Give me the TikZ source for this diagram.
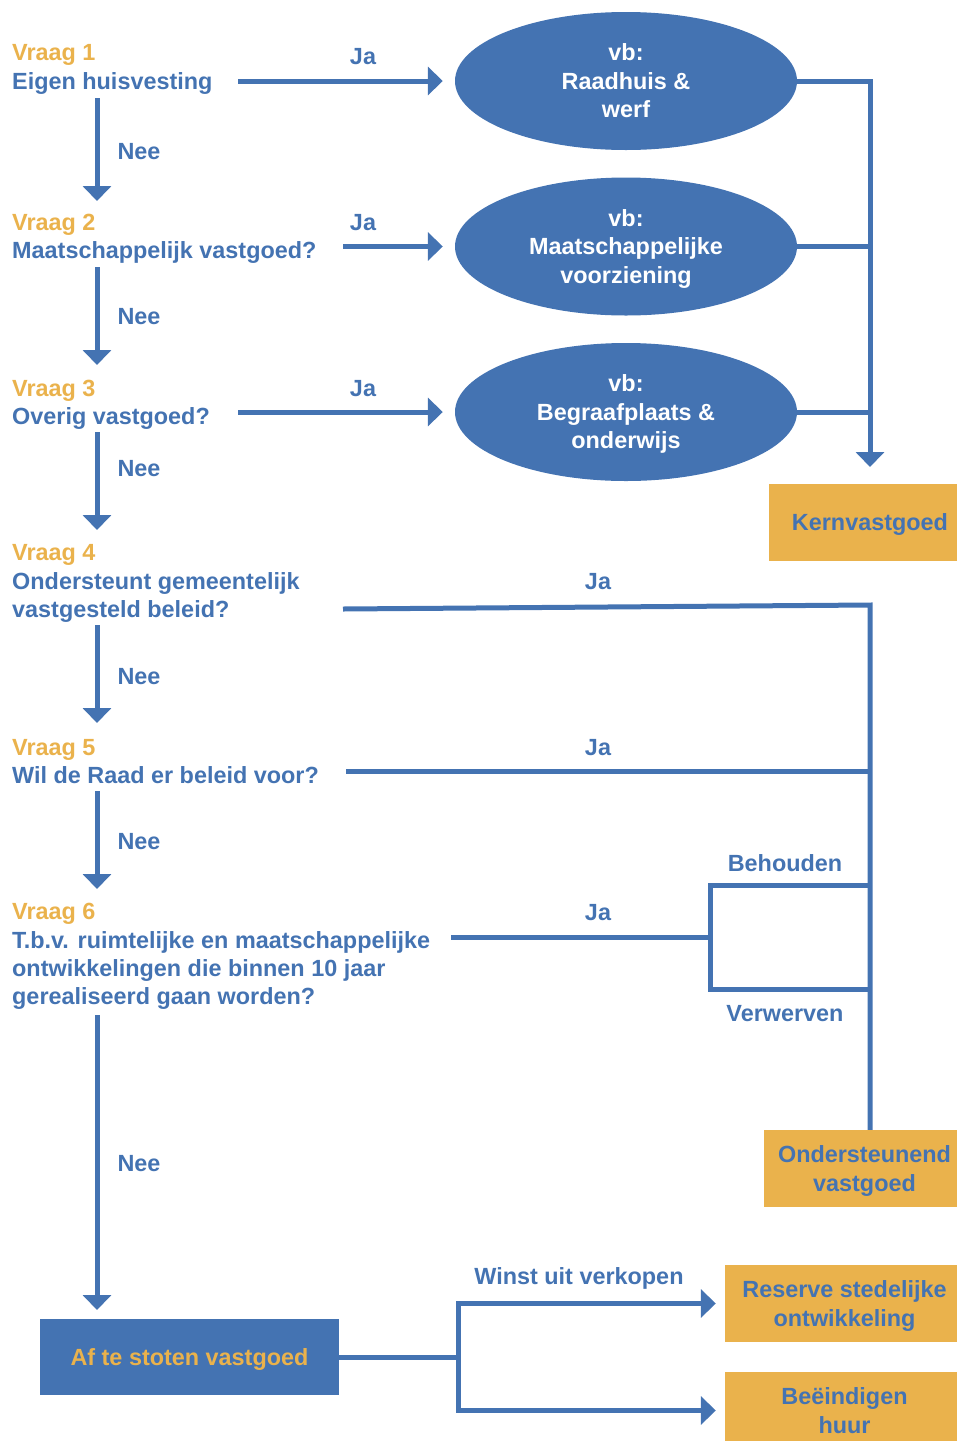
\documentclass[tikz,border=0pt]{standalone}
\usepackage{fontspec}
\setmainfont{Liberation Sans}
\usetikzlibrary{arrows.meta,shapes.geometric}
\definecolor{myblue}{RGB}{68,115,178}
\definecolor{myorange}{RGB}{234,178,76}
\begin{document}
\begin{tikzpicture}[x=1pt,y=-1pt,
 txt/.style={font=\bfseries\fontsize{23.4}{28.5}\selectfont, inner sep=0pt},
 qv/.style={txt, text=myorange, anchor=base west},
 qt/.style={txt, text=myblue, anchor=base west},
 lbl/.style={txt, text=myblue, anchor=base},
 ell/.style={ellipse, fill=myblue, text=white, txt, align=center, text depth=0pt, minimum width=342pt, minimum height=138pt},
 obox/.style={rectangle, fill=myorange, text=myblue, txt, align=center, text depth=0pt, minimum height=77pt},
 conn/.style={draw=myblue, line width=5pt, line join=miter},
 arr/.style={conn, -{Triangle[width=28pt,length=15pt]}},
]
\path[use as bounding box] (0,0) rectangle (957,1441);
\clip (0,0) rectangle (957,1441);

% questions
\node[qv] (q1v) at (12,60) {Vraag 1};
\node[qt] (q1t) at (12,89) {Eigen huisvesting};
\node[qv] (q2v) at (12,230) {Vraag 2};
\node[qt] (q2t) at (12,258) {Maatschappelijk vastgoed?};
\node[qv] (q3v) at (12,396) {Vraag 3};
\node[qt] (q3t) at (12,424) {Overig vastgoed?};
\node[qv] (q4v) at (12,560) {Vraag 4};
\node[qt] (q4a) at (12,589) {Ondersteunt gemeentelijk};
\node[qt] (q4b) at (12,617) {vastgesteld beleid?};
\node[qv] (q5v) at (12,755) {Vraag 5};
\node[qt] (q5t) at (12,783) {Wil de Raad er beleid voor?};
\node[qv] (q6v) at (12,919) {Vraag 6};
\node[qt] (q6a) at (12,948) {T.b.v. ruimtelijke en maatschappelijke};
\node[qt] (q6b) at (12,976) {ontwikkelingen die binnen 10 jaar};
\node[qt] (q6c) at (12,1004) {gerealiseerd gaan worden?};

% ellipses
\node[ell] (e1) at (626,81) {vb:\\Raadhuis \&\\werf};
\node[ell] (e2) at (626,246.5) {vb:\\Maatschappelijke\\voorziening};
\node[ell] (e3) at (626,412) {vb:\\Begraafplaats \&\\onderwijs};

% boxes
\node[obox, minimum width=202pt] (kern) at (870,522.5) {Kernvastgoed};
\node[obox, minimum width=201pt] (ond) at (864.5,1168.5) {Ondersteunend\\vastgoed};
\node[obox, minimum width=239pt] (res) at (844.5,1303.5) {Reserve stedelijke\\ontwikkeling};
\node[obox, minimum width=239pt] (bee) at (844.5,1410.5) {Beëindigen\\huur};
\node[rectangle, fill=myblue, text=myorange, txt, text depth=0pt, minimum width=299pt, minimum height=76pt] (af) at (189.5,1357) {Af te stoten vastgoed};

% labels
\node[lbl] (ja1) at (363,64) {Ja};
\node[lbl] (ja2) at (363,230) {Ja};
\node[lbl] (ja3) at (363,396) {Ja};
\node[lbl] (ja4) at (598,589) {Ja};
\node[lbl] (ja5) at (598,755) {Ja};
\node[lbl] (ja6) at (598,920) {Ja};
\node[lbl] (nee1) at (139,159) {Nee};
\node[lbl] (nee2) at (139,324) {Nee};
\node[lbl] (nee3) at (139,476) {Nee};
\node[lbl] (nee4) at (139,684) {Nee};
\node[lbl] (nee5) at (139,849) {Nee};
\node[lbl] (nee6) at (139,1171) {Nee};
\node[lbl] (beh) at (785,871) {Behouden};
\node[lbl] (ver) at (785,1021) {Verwerven};
\node[lbl] (winst) at (579,1284) {Winst uit verkopen};

% coordinates
\coordinate (j1s) at (238,81);
\coordinate (j2s) at (343,246.5);
\coordinate (j3s) at (238,412);
\coordinate (kin) at (870,467);
\coordinate (n1s) at (97,98);   \coordinate (n1e) at (97,201);
\coordinate (n2s) at (97,267);  \coordinate (n2e) at (97,365);
\coordinate (n3s) at (97,432);  \coordinate (n3e) at (97,530);
\coordinate (n4s) at (97,625);  \coordinate (n4e) at (97,723);
\coordinate (n5s) at (97,791);  \coordinate (n5e) at (97,889);
\coordinate (n6s) at (97,1015); \coordinate (n6e) at (97,1310);
\coordinate (l4s) at (343,609); \coordinate (l4c) at (870,605);
\coordinate (l5s) at (346,771);
\coordinate (l6s) at (451,937); \coordinate (brk) at (710,937);
\coordinate (btop) at (710,885); \coordinate (bbot) at (710,989);
\coordinate (fork) at (458,1357);

% Ja arrows
\draw[arr, shorten >=12pt] (j1s) -- (e1.west);
\draw[arr, shorten >=12pt] (j2s) -- (e2.west);
\draw[arr, shorten >=12pt] (j3s) -- (e3.west);

% to Kernvastgoed
\draw[arr] (e1.east) -- (e1.east -| kin) -- (kin);
\draw[conn] (e2.east) -- (e2.east -| kin);
\draw[conn] (e3.east) -- (e3.east -| kin);

% Nee arrows
\draw[arr] (n1s) -- (n1e);
\draw[arr] (n2s) -- (n2e);
\draw[arr] (n3s) -- (n3e);
\draw[arr] (n4s) -- (n4e);
\draw[arr] (n5s) -- (n5e);
\draw[arr] (n6s) -- (n6e);

% to Ondersteunend vastgoed
\draw[conn] (l4s) -- (l4c) -- (ond.north -| l4c);
\draw[conn] (l5s) -- (l5s -| l4c);
\draw[conn] (l6s) -- (brk);
\draw[conn] (btop -| l4c) -- (btop) -- (bbot) -- (bbot -| l4c);

% Af te stoten
\draw[conn] (af.east) -- (fork);
\draw[conn, line cap=rect] (fork |- res.west) -- (fork |- bee.west);
\draw[arr, shorten >=9pt] (fork |- res.west) -- (res.west);
\draw[arr, shorten >=9pt] (fork |- bee.west) -- (bee.west);
\end{tikzpicture}
\end{document}
